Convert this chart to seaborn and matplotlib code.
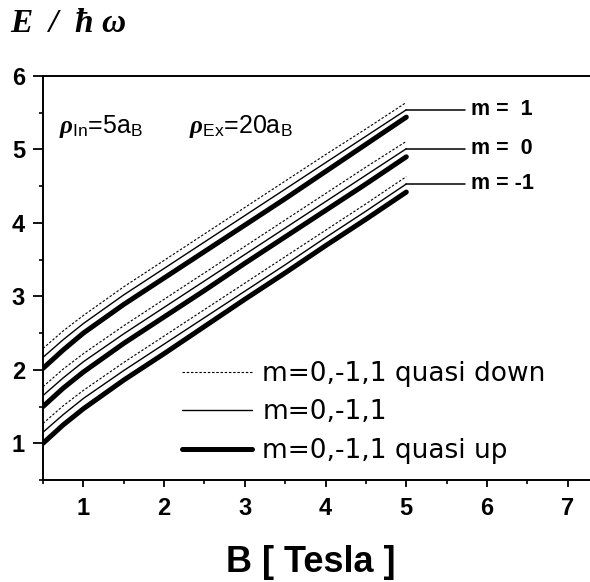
import matplotlib
matplotlib.use("Agg")
import matplotlib.pyplot as plt
from matplotlib.lines import Line2D
from matplotlib.ticker import MultipleLocator
import seaborn as sns
import pandas as pd

# ---------------- data ----------------
B = [0.5, 0.75, 1.0, 1.5, 2.0, 2.5, 3.0, 3.5, 4.0, 4.5, 5.0]

up_m_minus1 = [1.00, 1.25, 1.47, 1.86, 2.22, 2.59, 2.96, 3.32, 3.69, 4.05, 4.42]
mid_m_minus1 = [1.15, 1.39, 1.61, 1.99, 2.35, 2.71, 3.07, 3.43, 3.80, 4.16, 4.53]
down_m_minus1 = [1.27, 1.51, 1.72, 2.10, 2.46, 2.82, 3.18, 3.54, 3.90, 4.26, 4.63]

up_m0 = [1.50, 1.75, 1.97, 2.36, 2.72, 3.08, 3.45, 3.81, 4.17, 4.53, 4.90]
mid_m0 = [1.65, 1.89, 2.11, 2.49, 2.85, 3.21, 3.57, 3.93, 4.29, 4.65, 5.01]
down_m0 = [1.77, 2.01, 2.22, 2.60, 2.96, 3.32, 3.68, 4.04, 4.40, 4.76, 5.11]

up_m1 = [2.02, 2.27, 2.50, 2.89, 3.25, 3.61, 3.97, 4.33, 4.70, 5.07, 5.44]
mid_m1 = [2.17, 2.41, 2.63, 3.02, 3.38, 3.74, 4.10, 4.46, 4.82, 5.18, 5.54]
down_m1 = [2.29, 2.53, 2.74, 3.13, 3.49, 3.85, 4.21, 4.57, 4.93, 5.28, 5.64]

m_labels = ["m =  1", "m =  0", "m = -1"]
legend_labels = ["m=0,-1,1 quasi down", "m=0,-1,1", "m=0,-1,1 quasi up"]
x_ticks = [1, 2, 3, 4, 5, 6, 7]
y_ticks = [1, 2, 3, 4, 5, 6]

series = {
    ("-1", "down"): down_m_minus1, ("-1", "mid"): mid_m_minus1, ("-1", "up"): up_m_minus1,
    ("0", "down"): down_m0, ("0", "mid"): mid_m0, ("0", "up"): up_m0,
    ("1", "down"): down_m1, ("1", "mid"): mid_m1, ("1", "up"): up_m1,
}
rows = []
for (m, kind), vals in series.items():
    for b, e in zip(B, vals):
        rows.append({"B": b, "E": e, "m": m, "kind": kind})
df = pd.DataFrame(rows)

# ---------------- style ----------------
sns.set_style("ticks")
plt.rcParams["font.family"] = ["Liberation Sans", "DejaVu Sans"]
plt.rcParams["text.color"] = "black"
plt.rcParams["axes.labelcolor"] = "black"
plt.rcParams["xtick.color"] = "black"
plt.rcParams["ytick.color"] = "black"
plt.rcParams["mathtext.fontset"] = "custom"
plt.rcParams["mathtext.rm"] = "Liberation Sans"
plt.rcParams["mathtext.it"] = "Liberation Serif:italic:bold"
plt.rcParams["mathtext.bf"] = "Liberation Sans:bold"

styles = {
    "down": dict(lw=0.8, ls=(0, (2.2, 1.6))),
    "mid": dict(lw=1.0, ls="-"),
    "up": dict(lw=3.6, ls="-"),
}

fig = plt.figure(figsize=(5.9, 5.82), dpi=100)
ax = fig.add_axes([43 / 590, 102 / 582, 549 / 590, 404 / 582])

for (m, kind) in series:
    sub = df[(df.m == m) & (df.kind == kind)]
    sns.lineplot(data=sub, x="B", y="E", ax=ax, color="black",
                 linewidth=styles[kind]["lw"], linestyle=styles[kind]["ls"],
                 legend=False, sort=False, estimator=None)

ax.set_xlim(0.5, 7.3)
ax.set_ylim(0.5, 6.0)
ax.set_xticks(x_ticks)
ax.set_yticks(y_ticks)
ax.xaxis.set_minor_locator(MultipleLocator(0.5))
ax.yaxis.set_minor_locator(MultipleLocator(0.5))
ax.tick_params(axis="x", which="major", length=5, width=1.3, labelsize=17, pad=7)
ax.tick_params(axis="y", which="major", length=7, width=1.3, labelsize=17, pad=6)
ax.tick_params(which="minor", length=3, width=1.2)
for lbl in ax.get_xticklabels() + ax.get_yticklabels():
    lbl.set_fontweight("bold")
for s in ax.spines.values():
    s.set_linewidth(1.4)
    s.set_color("black")
ax.set_xlabel("B [ Tesla ]", fontsize=26, fontweight="bold")
ax.xaxis.set_label_coords((311 - 43) / 549, -0.162)
ax.set_ylabel("")

# right-side m labels connected to the curves' ends
for lab, vals in zip(m_labels, [mid_m1, mid_m0, mid_m_minus1]):
    ax.plot([B[-1], 5.73], [vals[-1], vals[-1]], color="black", lw=1.1)
    ax.text(5.8, vals[-1], lab, fontsize=15.5, fontweight="bold", va="center", ha="left")

# parameters
ax.text(0.7, 5.23, r"$\rho_{\mathrm{In}}$=5a$_{\mathrm{B}}$", fontsize=18, va="baseline")
ax.text(2.31, 5.23, r"$\rho_{\mathrm{Ex}}$=20a$_{\mathrm{B}}$", fontsize=18, va="baseline")

# legend
handles = [Line2D([], [], color="black", **{"lw": styles[k]["lw"], "ls": styles[k]["ls"]})
           for k in ["down", "mid", "up"]]
leg = ax.legend(handles, legend_labels, loc="upper left", bbox_to_anchor=(0.253, 0.295),
                frameon=False, prop={"family": "DejaVu Sans", "size": 19},
                handlelength=2.65, handletextpad=0.4, labelspacing=0.48,
                borderpad=0, borderaxespad=0)

# y-axis title at top-left
fig.text(10 / 590, 1 - 24 / 582, "E  /  ħ ω", fontsize=24, fontweight="bold",
         fontstyle="italic", family=["Liberation Serif", "DejaVu Serif"], va="center", ha="left")

fig.savefig("out.png", dpi=100)
